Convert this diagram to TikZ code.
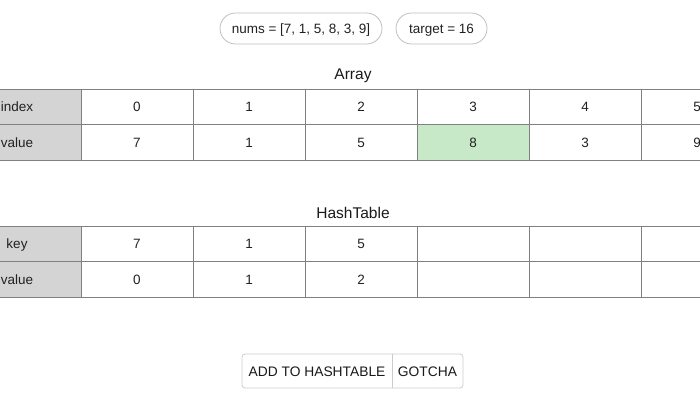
\documentclass[tikz,border=0pt]{standalone}
\usepackage{fontspec}
\setmainfont{Liberation Sans}
\begin{document}
\begin{tikzpicture}[x=1pt,y=-1pt,
  txt/.style={text=black!87,font=\fontsize{13.5}{15}\selectfont},
  cell/.style={txt,draw=black!50,line width=0.9pt,minimum width=112pt,minimum height=35.5pt,inner sep=0pt,anchor=center,text height=9.8pt,text depth=0pt},
  headcell/.style={cell,fill=black!17,minimum width=128pt},
  hit/.style={fill=green!60!black!22},
  title/.style={text=black!90,font=\fontsize{15.5}{18}\selectfont},
  pill/.style={txt,draw=black!25,line width=0.8pt,rounded corners=15.5pt,minimum height=31pt,inner sep=0pt,text height=9.8pt,text depth=0pt},
  btn/.style={text=black!90,font=\fontsize{13.8}{16}\selectfont,inner sep=0pt,minimum height=34pt,text height=10pt,text depth=0pt}]
\useasboundingbox (0,0) rectangle (700,400);

% parameters
\node[pill,minimum width=162pt] (nums) at (301,28.5) {nums = [7, 1, 5, 8, 3, 9]};
\node[pill,minimum width=91pt] (target) at (441.5,28.5) {target = 16};

% input array
\node[title] (arrtitle) at (353,75.5) {Array};
\node[headcell] (ai) at (17,106.75) {index};
\node[headcell] (av) at (17,142.25) {value};
\foreach \i [count=\c from 0] in {0,1,2,3,4,5}{
  \node[cell] (ai\c) at ({137+112*\c},106.75) {\i};
}
\foreach \v [count=\c from 0] in {7,1,5,8,3,9}{
  \ifnum\c=3
    \node[cell,hit] (av\c) at ({137+112*\c},142.25) {\v};
  \else
    \node[cell] (av\c) at ({137+112*\c},142.25) {\v};
  \fi
}

% hash table
\node[title] (hashtitle) at (353,212.5) {HashTable};
\node[headcell] (hk) at (17,243.75) {key};
\node[headcell] (hv) at (17,279.25) {value};
\foreach \k [count=\c from 0] in {7,1,5,{},{},{}}{
  \node[cell] (hk\c) at ({137+112*\c},243.75) {\k};
}
\foreach \v [count=\c from 0] in {0,1,2,{},{},{}}{
  \node[cell] (hv\c) at ({137+112*\c},279.25) {\v};
}

% action buttons
\draw[draw=black!20,line width=0.8pt,rounded corners=3pt] (242,354) rectangle (463,388);
\node[btn,minimum width=150pt] (add) at (317,371) {ADD TO HASHTABLE};
\node[btn,minimum width=71pt] (gotcha) at (427.5,371) {GOTCHA};
\draw[draw=black!20,line width=0.8pt] (add.north east) -- (add.south east);
\end{tikzpicture}
\end{document}
